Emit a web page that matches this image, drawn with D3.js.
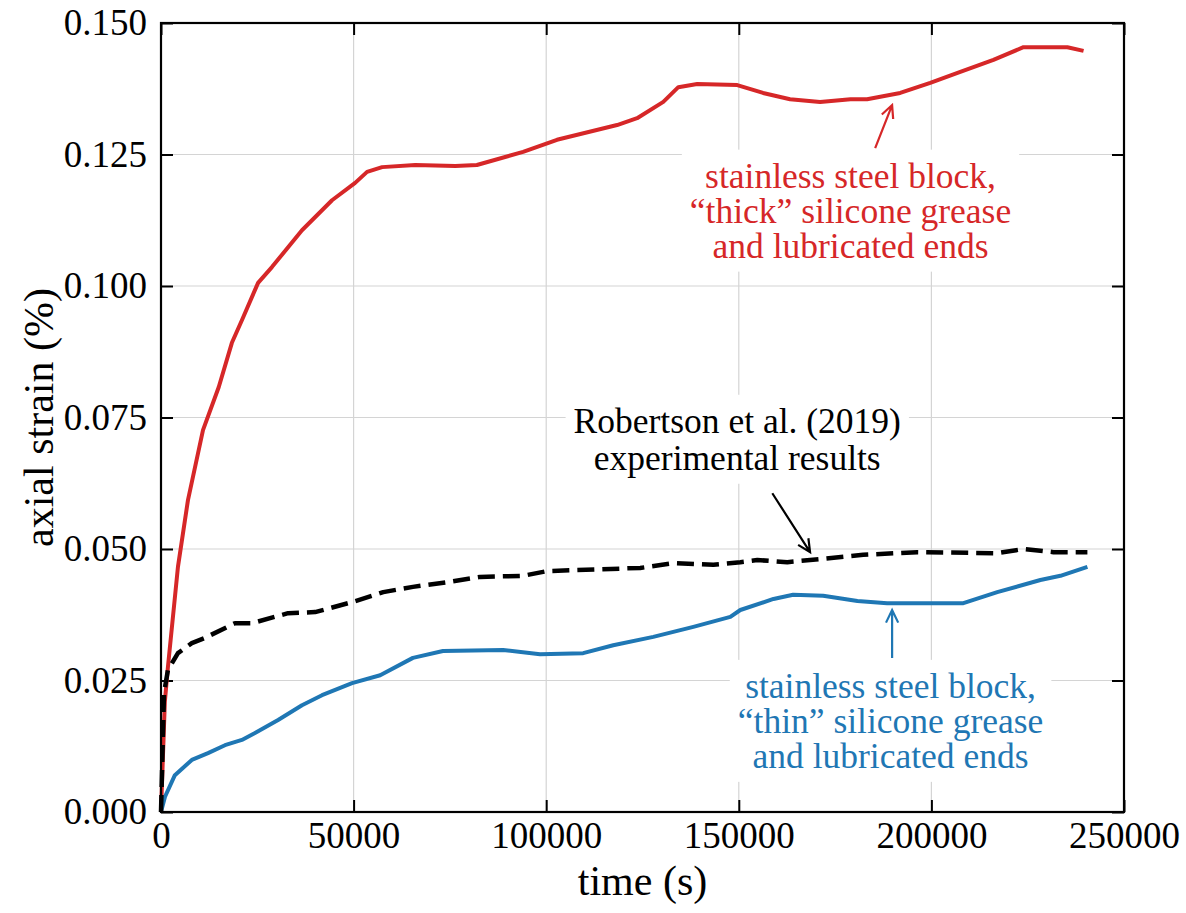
<!DOCTYPE html>
<html>
<head>
<meta charset="utf-8">
<script src="https://cdn.jsdelivr.net/npm/d3@7"></script>
<style>
  body { margin: 0; background: #fff; }
  text { font-family: "Liberation Serif", "DejaVu Serif", serif; }
</style>
</head>
<body>
<div class="graph"></div>
<script>
// values: time (s) and axial strain (%)
let thickTime = [0, 1000, 1800, 4400, 7000, 10900, 15000, 18400, 21000, 25200, 28800, 36600, 44400, 50400, 53500, 57400, 66000, 76400, 82000, 94000, 102800, 118400, 123600, 130400, 134300, 139200, 149600, 156300, 163300, 171100, 179000, 183300, 191900, 199700, 207500, 216100, 223900, 235300, 239500];
let thickStrain = [0, 0.021, 0.0276, 0.0466, 0.0593, 0.0726, 0.0808, 0.0892, 0.0935, 0.1006, 0.1036, 0.1106, 0.1163, 0.1196, 0.1217, 0.1226, 0.123, 0.1228, 0.123, 0.1255, 0.1278, 0.1306, 0.1319, 0.135, 0.1378, 0.1384, 0.1382, 0.1367, 0.1355, 0.135, 0.1355, 0.1355, 0.1367, 0.1386, 0.1407, 0.143, 0.1454, 0.1454, 0.1447];

let expTime = [0, 780, 1800, 4400, 8000, 11400, 19200, 23600, 33000, 40000, 49600, 57700, 65400, 74300, 82800, 94000, 100200, 124400, 133000, 143400, 150400, 154800, 162600, 168500, 182300, 196300, 217100, 223900, 231700, 240500];
let expStrain = [0, 0.0226, 0.027, 0.0302, 0.0321, 0.0331, 0.0359, 0.0359, 0.0378, 0.038, 0.0399, 0.0418, 0.0428, 0.0437, 0.0447, 0.0449, 0.0458, 0.0464, 0.0473, 0.047, 0.0475, 0.0479, 0.0475, 0.0479, 0.0489, 0.0494, 0.0492, 0.05, 0.0494, 0.0494];

let thinTime = [0, 1040, 3600, 8000, 12200, 16600, 21000, 24400, 30400, 36600, 41800, 49600, 56900, 65400, 73200, 88800, 98400, 109600, 117400, 127800, 138200, 147800, 150400, 159000, 164100, 171900, 180800, 188500, 208300, 217100, 228300, 233500, 240500];
let thinStrain = [0, 0.0029, 0.007, 0.0099, 0.0112, 0.0127, 0.0137, 0.015, 0.0175, 0.0203, 0.0222, 0.0245, 0.026, 0.0293, 0.0306, 0.0308, 0.03, 0.0302, 0.0317, 0.0333, 0.0352, 0.0371, 0.0384, 0.0405, 0.0413, 0.0411, 0.0401, 0.0397, 0.0397, 0.0418, 0.0441, 0.0449, 0.0466];

let xTicks = [0, 50000, 100000, 150000, 200000, 250000];
let yTicks = [0, 0.025, 0.05, 0.075, 0.1, 0.125, 0.15];

let thickLabel = ["stainless steel block,", "\u201cthick\u201d silicone grease", "and lubricated ends"];
let expLabel = ["Robertson et al. (2019)", "experimental results"];
let thinLabel = ["stainless steel block,", "\u201cthin\u201d silicone grease", "and lubricated ends"];

// annotation anchors in data units: label centre / first baseline, arrow tail, arrow tip
let thickNote = { tx: 179000, ty: 0.1187, from: [185400, 0.1262], to: [189800, 0.1344] };
let expNote = { tx: 149600, ty: 0.0721, from: [158700, 0.0606], to: [168500, 0.0494] };
let thinNote = { tx: 189400, ty: 0.0217, from: [189800, 0.0293], to: [189800, 0.0384] };

let red = "#d62728";
let blue = "#1f77b4";

let W = 1186;
let H = 913;
let m = { left: 161, top: 23, right: 62, bottom: 101 };
let w = W - m.left - m.right;
let h = H - m.top - m.bottom;

let svg = d3
  .select(".graph")
  .append("svg")
  .attr("width", W)
  .attr("height", H);

let xScale = d3.scaleLinear().domain([0, 250000]).range([m.left, m.left + w]);
let yScale = d3.scaleLinear().domain([0, 0.15]).range([m.top + h, m.top]);

// grid
svg
  .append("g")
  .selectAll("line")
  .data(xTicks.slice(1, -1))
  .enter()
  .append("line")
  .attr("x1", (d) => xScale(d))
  .attr("x2", (d) => xScale(d))
  .attr("y1", m.top)
  .attr("y2", m.top + h)
  .attr("stroke", "#d4d4d4")
  .attr("stroke-width", 1.2);
svg
  .append("g")
  .selectAll("line")
  .data(yTicks.slice(1, -1))
  .enter()
  .append("line")
  .attr("x1", m.left)
  .attr("x2", m.left + w)
  .attr("y1", (d) => yScale(d))
  .attr("y2", (d) => yScale(d))
  .attr("stroke", "#d4d4d4")
  .attr("stroke-width", 1.2);

// white boxes behind annotation text (filled in once text is measured)
let boxLayer = svg.append("g");

// axes with inward ticks on all four sides
let tickLen = 12;
let xAxis = d3.axisBottom(xScale).tickValues(xTicks).tickSizeInner(-tickLen).tickSizeOuter(0).tickPadding(10).tickFormat(d3.format("d"));
let xTop = d3.axisTop(xScale).tickValues(xTicks).tickSizeInner(-tickLen).tickSizeOuter(0).tickFormat("");
let yAxis = d3.axisLeft(yScale).tickValues(yTicks).tickSizeInner(-tickLen).tickSizeOuter(0).tickPadding(14).tickFormat(d3.format(".3f"));
let yRight = d3.axisRight(yScale).tickValues(yTicks).tickSizeInner(-tickLen).tickSizeOuter(0).tickFormat("");

let gx = svg.append("g").attr("transform", "translate(0," + (m.top + h) + ")").call(xAxis);
svg.append("g").attr("transform", "translate(0," + m.top + ")").call(xTop);
let gy = svg.append("g").attr("transform", "translate(" + m.left + ",0)").call(yAxis);
svg.append("g").attr("transform", "translate(" + (m.left + w) + ",0)").call(yRight);

svg.selectAll(".domain").remove();
svg.selectAll(".tick line").attr("stroke", "#000").attr("stroke-width", 2);
gx.selectAll("text").attr("font-size", 37).attr("fill", "#000");
gy.selectAll("text").attr("font-size", 37).attr("fill", "#000");

// curves
let line = d3
  .line()
  .x((d) => xScale(d[0]))
  .y((d) => yScale(d[1]));

let curves = [
  { t: thickTime, v: thickStrain, color: red, dash: null, width: 4 },
  { t: thinTime, v: thinStrain, color: blue, dash: null, width: 4 },
  { t: expTime, v: expStrain, color: "#000", dash: "17,8", width: 4.5 },
];
curves.forEach(function (c) {
  svg
    .append("path")
    .datum(d3.zip(c.t, c.v))
    .attr("d", line)
    .attr("fill", "none")
    .attr("stroke", c.color)
    .attr("stroke-width", c.width)
    .attr("stroke-dasharray", c.dash)
    .attr("stroke-linejoin", "round");
});

// frame
svg
  .append("rect")
  .attr("x", m.left)
  .attr("y", m.top)
  .attr("width", w)
  .attr("height", h)
  .attr("fill", "none")
  .attr("stroke", "#000")
  .attr("stroke-width", 2.2);

// annotations
function note(lines, n, color, gap) {
  let g = svg.append("g");
  let x0 = 1e9, y0 = 1e9, x1b = -1e9, y1b = -1e9;
  lines.forEach(function (s, i) {
    let t = g
      .append("text")
      .attr("text-anchor", "middle")
      .attr("font-size", 35.5)
      .attr("fill", color)
      .attr("x", xScale(n.tx))
      .attr("y", yScale(n.ty) + i * gap)
      .text(s);
    let b = t.node().getBBox();
    x0 = Math.min(x0, b.x);
    y0 = Math.min(y0, b.y);
    x1b = Math.max(x1b, b.x + b.width);
    y1b = Math.max(y1b, b.y + b.height);
  });
  boxLayer
    .append("rect")
    .attr("x", x0 - 8)
    .attr("y", y0 - 6)
    .attr("width", x1b - x0 + 16)
    .attr("height", y1b - y0 + 12)
    .attr("fill", "#fff");

  let x1 = xScale(n.from[0]);
  let y1 = yScale(n.from[1]);
  let x2 = xScale(n.to[0]);
  let y2 = yScale(n.to[1]);
  let a = Math.atan2(y2 - y1, x2 - x1);
  let hl = 14;
  let hw = 0.45;
  g.append("path")
    .attr("d",
      "M" + x1 + "," + y1 + "L" + x2 + "," + y2 +
      "M" + (x2 - hl * Math.cos(a - hw)) + "," + (y2 - hl * Math.sin(a - hw)) +
      "L" + x2 + "," + y2 +
      "L" + (x2 - hl * Math.cos(a + hw)) + "," + (y2 - hl * Math.sin(a + hw)))
    .attr("fill", "none")
    .attr("stroke", color)
    .attr("stroke-width", 2.2);
}

note(thickLabel, thickNote, red, 35);
note(expLabel, expNote, "#000", 37);
note(thinLabel, thinNote, blue, 35);

// axis titles
svg
  .append("text")
  .attr("x", m.left + w / 2)
  .attr("y", 895)
  .attr("text-anchor", "middle")
  .attr("font-size", 42)
  .text("time (s)");

svg
  .append("text")
  .attr("transform", "translate(53," + (m.top + h / 2) + ") rotate(-90)")
  .attr("text-anchor", "middle")
  .attr("font-size", 42)
  .text("axial strain (%)");
</script>
</body>
</html>
